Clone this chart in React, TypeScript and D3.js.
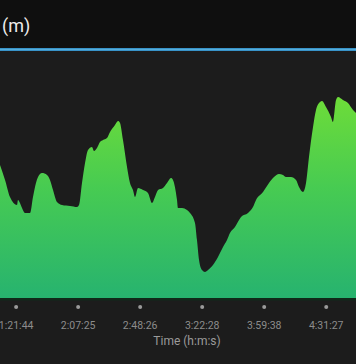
import React from "react";
import * as d3 from "d3";

// distance (km) along the route
const distances = [
  7.4, 8.21, 9.01, 10.14, 10.3, 10.62, 10.95, 11.43, 12.24, 12.72, 13.2, 13.53, 14.17, 14.98, 15.46,
  15.95, 16.59, 17.4, 18.69, 19.82, 20.14, 20.62, 21.11, 21.59, 22.23, 22.56, 23.04, 23.52, 24.01,
  24.65, 25.14, 25.94, 26.43, 26.75, 27.23, 27.88, 28.36, 28.84, 29.17, 29.65, 30.46, 31.26, 31.91,
  32.39, 32.88, 33.68, 34.33, 34.97, 35.29, 35.94, 36.1, 36.75, 37.55, 38.04, 38.84, 39.16, 39.49,
  39.97, 40.45, 40.94, 41.74, 42.55, 43.36, 44.0, 44.48, 45.29, 46.26, 47.39, 48.19, 48.68, 49.81,
  50.77, 51.58, 52.38, 53.03, 53.51, 54.32, 55.13, 55.61, 56.25, 56.74, 57.22, 57.87, 58.35, 59.0,
  59.32, 59.96, 60.77, 61.09, 61.58, 61.9, 62.7, 63.51, 64.32, 64.8,
];
// elevation (m)
const elevations = [
  233, 218, 201, 193, 198, 195, 190, 185, 185, 201, 215, 221, 225, 223, 218,
  208, 196, 193, 192, 191, 193, 215, 235, 248, 251, 247, 250, 256, 258,
  260, 266, 273, 277, 275, 258, 231, 215, 208, 201, 210, 208, 205, 195,
  201, 208, 210, 215, 220, 218, 198, 190, 190, 188, 185, 175, 158, 138,
  128, 126, 128, 133, 141, 151, 158, 165, 171, 181, 185, 191, 198, 206,
  215, 221, 224, 223, 221, 221, 218, 211, 206, 215, 241, 271, 288, 296,
  297, 291, 281, 276, 298, 301, 298, 295, 288, 285,
];
const tickDistances = [10, 20, 30, 40, 50, 60];
const tickLabels = ["1:21:44", "2:07:25", "2:48:26", "3:22:28", "3:59:38", "4:31:27"];

const W = 356;
const H = 364;

export default function App() {
  const x = d3.scaleLinear().domain([7.4, 64.8]).range([0, W]);
  const y = d3.scaleLinear().domain([100, 350]).range([298, 48]);
  const data = distances.map((d, i) => ({ d, e: elevations[i] }));
  const area = d3
    .area<{ d: number; e: number }>()
    .x((p) => x(p.d))
    .y0(y(100))
    .y1((p) => y(p.e))
    .curve(d3.curveMonotoneX);

  const font = "Roboto, 'Noto Sans', sans-serif";
  return (
    <svg
      width={W}
      height={H}
      style={{ position: "fixed", left: 0, top: 0, display: "block" }}
    >
      <defs>
        <linearGradient id="g" gradientUnits="userSpaceOnUse" x1="0" y1={y(300)} x2="0" y2={y(100)}>
          <stop offset="0" stopColor="#6ddc39" />
          <stop offset="0.45" stopColor="#47cb52" />
          <stop offset="1" stopColor="#27b36f" />
        </linearGradient>
      </defs>
      <rect x={0} y={0} width={W} height={H} fill="#1c1c1c" />
      <rect x={0} y={0} width={W} height={48} fill="#0f0f0f" />
      <rect x={0} y={48} width={W} height={3} fill="#3893c8" />
      <rect x={0} y={49} width={W} height={1} fill="#55addb" />
      <text x={2} y={32} fill="#ececec" fontSize={18} fontFamily={font}>
        (m)
      </text>
      <path d={area(data) ?? ""} fill="url(#g)" />
      <rect x={0} y={y(100)} width={W} height={2.5} fill="#10281a" />
      {tickDistances.map((t, i) => (
        <g key={t}>
          <circle cx={x(t)} cy={307} r={2} fill="#9a9a9a" />
          <text
            x={x(t)}
            y={329}
            textAnchor="middle"
            fill="#8c8c8c"
            fontSize={10.5}
            fontFamily={font}
          >
            {tickLabels[i]}
          </text>
        </g>
      ))}
      <text x={187} y={345} textAnchor="middle" fill="#9a9a9a" fontSize={12} fontFamily={font}>
        Time (h:m:s)
      </text>
    </svg>
  );
}
